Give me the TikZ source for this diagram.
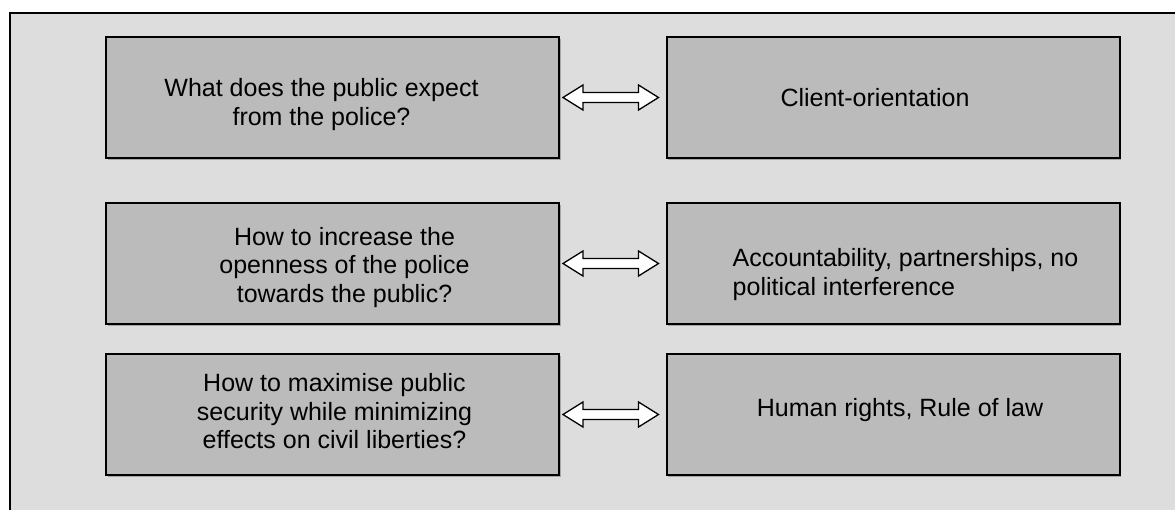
\documentclass[tikz,border=0pt]{standalone}
\usepackage{fontspec}
\setmainfont{Liberation Sans}
\usepackage{tikz}
\usetikzlibrary{calc, shadows}

\definecolor{panelgray}{HTML}{DDDDDD}
\definecolor{boxgray}{HTML}{BBBBBB}

\tikzset{
    cell/.style={draw=black, line width=2pt, fill=boxgray,
        minimum width=453pt, minimum height=121pt, inner sep=0pt,
        drop shadow={shadow xshift=1.5pt, shadow yshift=-1.5pt, fill=black!35, opacity=1}},
    celltext/.style={align=center, inner sep=0pt, font=\fontsize{25}{28.5}\selectfont},
    twowayarrow/.style={draw=black, line width=1.3pt, fill=white, line join=miter}
}

% hollow double-headed arrow between two boxes
\newcommand{\twoway}[2]{%
    \draw[twowayarrow]
        ($(#1.east)+(3,0)$) -- ($(#1.east)+(23,12.5)$) -- ($(#1.east)+(23,5)$)
        -- ($(#2.west)+(-27,5)$) -- ($(#2.west)+(-27,12.5)$) -- ($(#2.west)+(-7,0)$)
        -- ($(#2.west)+(-27,-12.5)$) -- ($(#2.west)+(-27,-5)$)
        -- ($(#1.east)+(23,-5)$) -- ($(#1.east)+(23,-12.5)$) -- cycle;
}

\begin{document}
\begin{tikzpicture}[x=1pt, y=-1pt]
                \clip (0,0) rectangle (1175,509);
                \useasboundingbox (0,0) rectangle (1175,509);
                % outer panel
                \draw[line width=2pt, fill=panelgray] (10,13) rectangle (1200,530);

                % boxes
                \node[cell] (q1) at (332.5,97.5) {};
                \node[cell] (a1) at (893,97.5) {};
                \node[cell] (q2) at (332.5,263.5) {};
                \node[cell] (a2) at (893,263.5) {};
                \node[cell] (q3) at (332.5,414.5) {};
                \node[cell] (a3) at (893,414.5) {};

                % texts, set a little off centre
                \node[celltext] (q1t) at ($(q1)+(-11,7)$) {What does the public expect\\from the police?};
                \node[celltext] (a1t) at ($(a1)+(-18,0)$) {Client-orientation};
                \node[celltext] (q2t) at ($(q2)+(12,4)$) {How to increase the\\openness of the police\\towards the public?};
                \node[celltext, align=left, anchor=west] (a2t) at ($(a2.west)+(67,11)$) {Accountability, partnerships, no\\political interference};
                \node[celltext] (q3t) at ($(q3)+(2,-3)$) {How to maximise public\\security while minimizing\\effects on civil liberties?};
                \node[celltext] (a3t) at ($(a3)+(7,-4)$) {Human rights, Rule of law};

                \twoway{q1}{a1}
                \twoway{q2}{a2}
                \twoway{q3}{a3}
\end{tikzpicture}
\end{document}
